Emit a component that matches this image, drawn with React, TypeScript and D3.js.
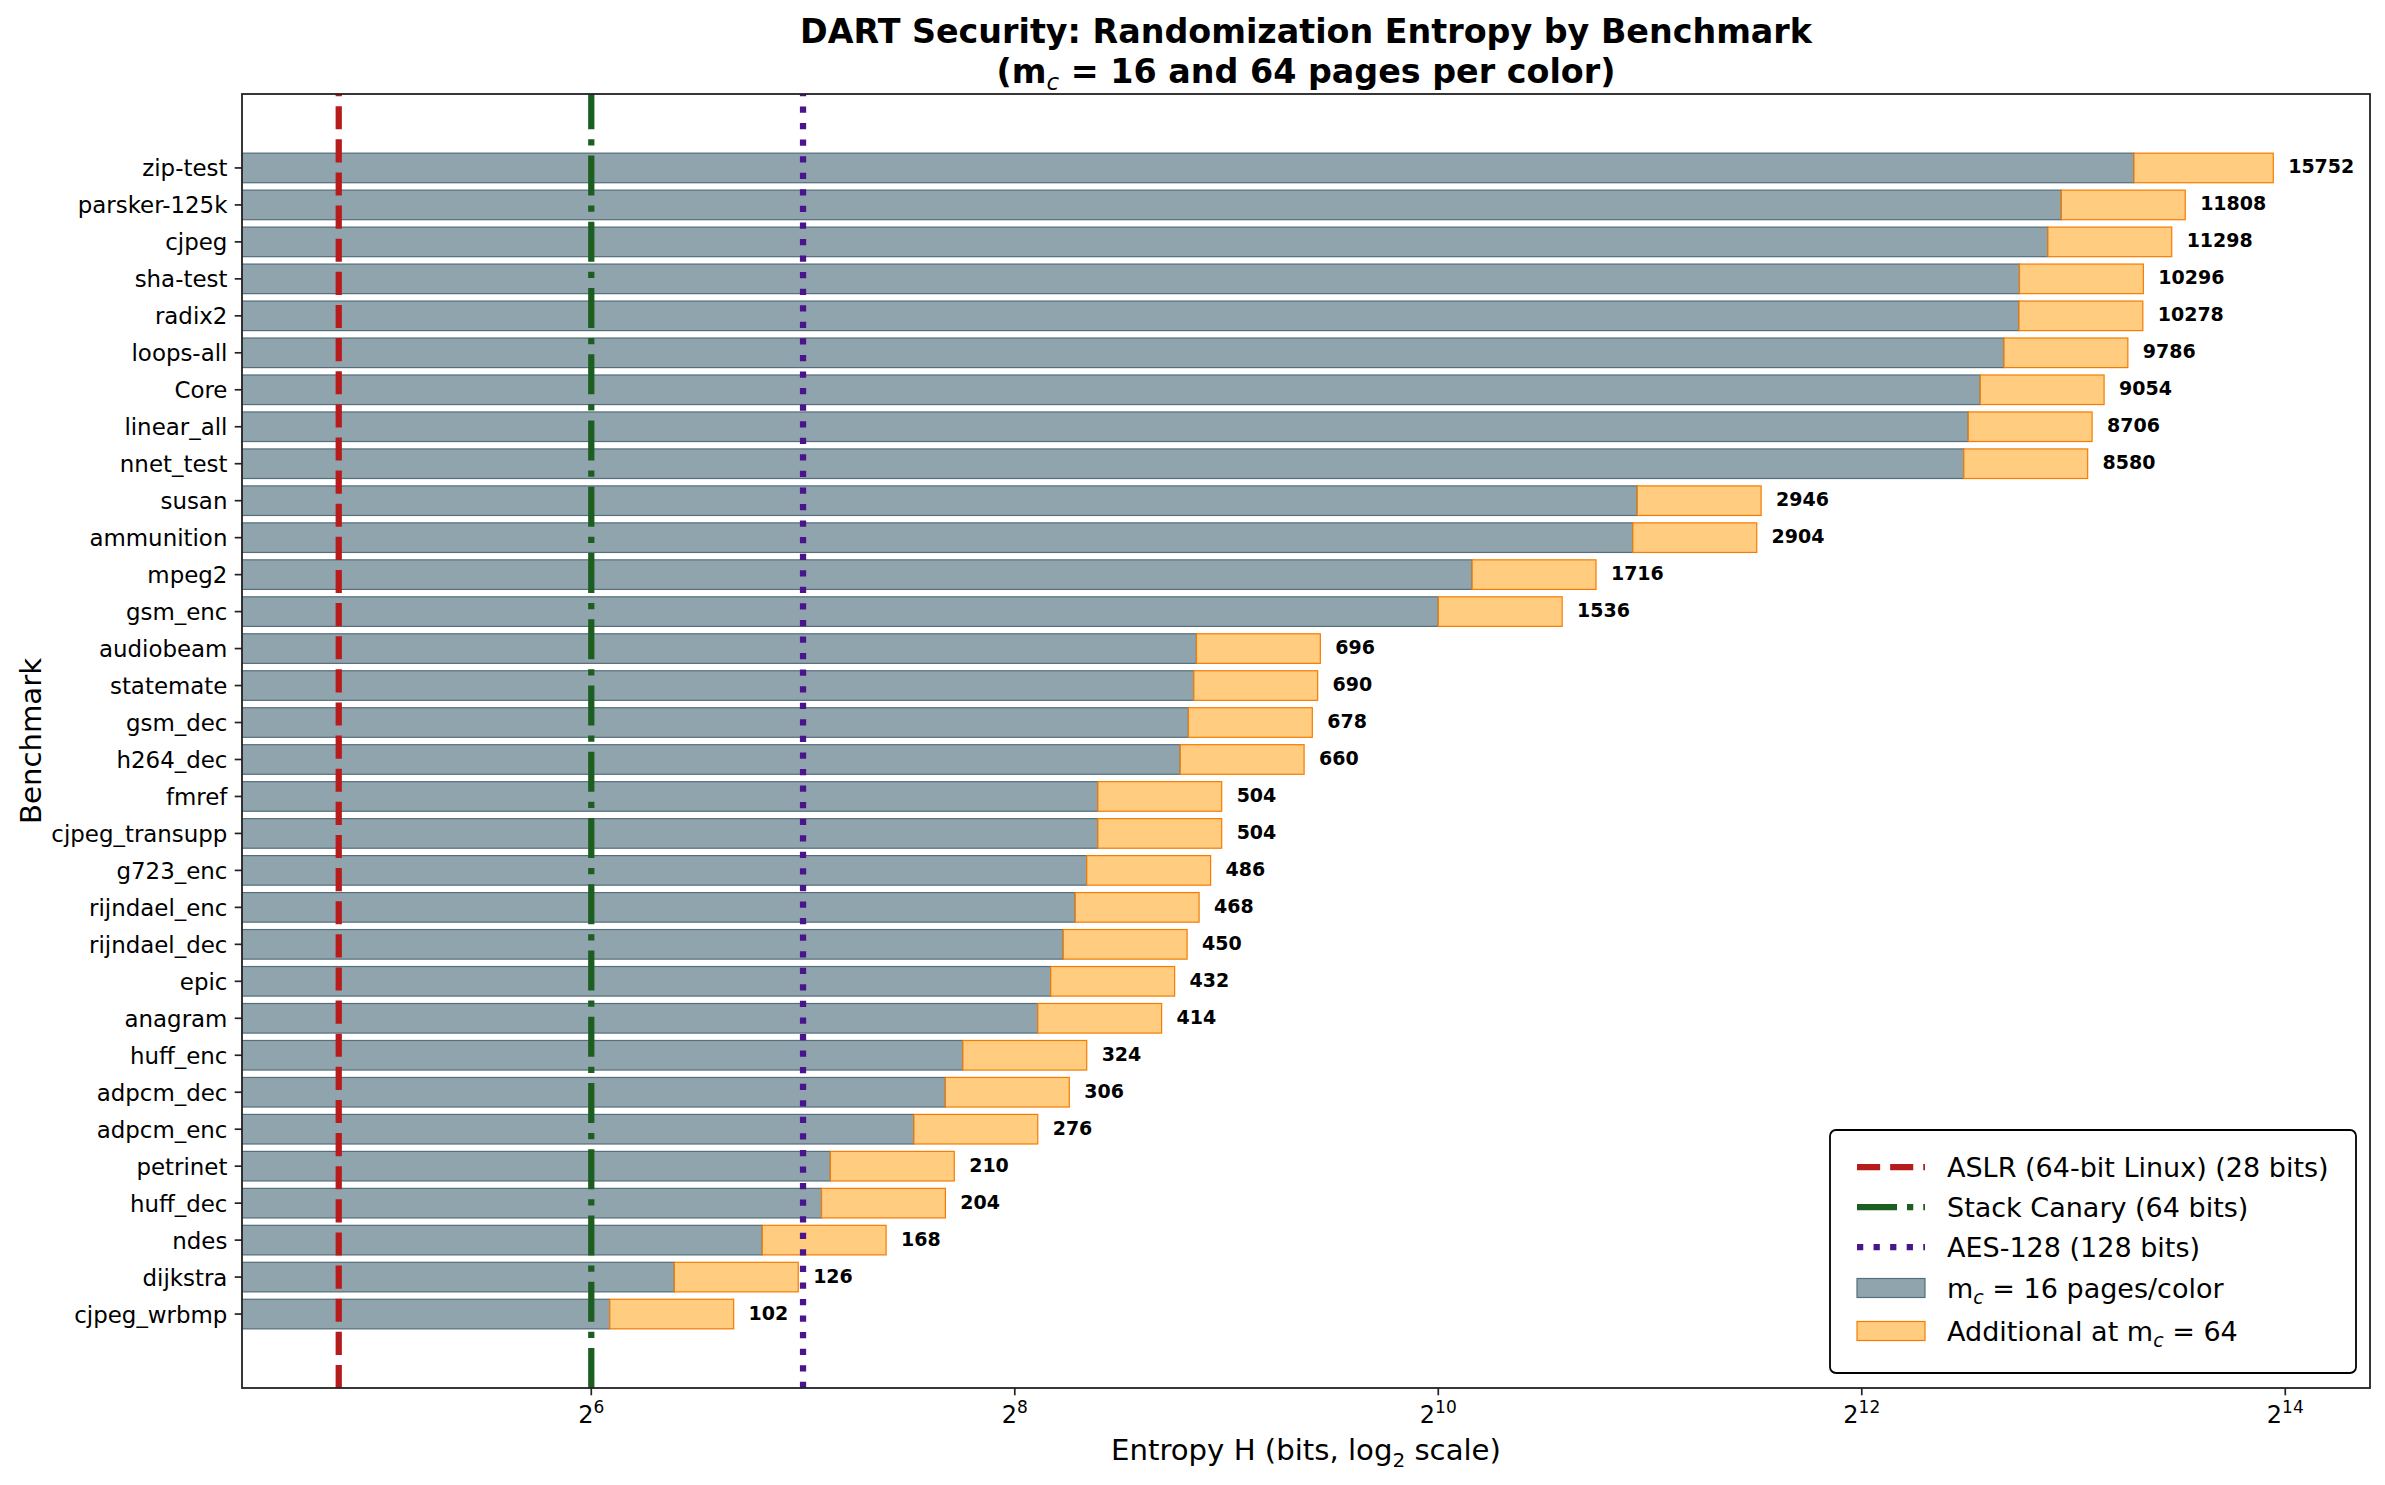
import * as d3 from "d3";

const benchmarks = [
  "zip-test", "parsker-125k", "cjpeg", "sha-test", "radix2", "loops-all", "Core",
  "linear_all", "nnet_test", "susan", "ammunition", "mpeg2", "gsm_enc", "audiobeam",
  "statemate", "gsm_dec", "h264_dec", "fmref", "cjpeg_transupp", "g723_enc",
  "rijndael_enc", "rijndael_dec", "epic", "anagram", "huff_enc", "adpcm_dec",
  "adpcm_enc", "petrinet", "huff_dec", "ndes", "dijkstra", "cjpeg_wrbmp",
];

// entropy at m_c = 16 pages per color
const entropyM16 = [
  9984, 7872, 7532, 6864, 6852, 6524, 6036, 5804, 5720, 1964, 1936, 1144, 1024, 464,
  460, 452, 440, 336, 336, 324, 312, 300, 288, 276, 216, 204, 184, 140, 136, 112, 84, 68,
];

// entropy at m_c = 64 pages per color (the printed totals)
const entropyM64 = [
  15752, 11808, 11298, 10296, 10278, 9786, 9054, 8706, 8580, 2946, 2904, 1716, 1536, 696,
  690, 678, 660, 504, 504, 486, 468, 450, 432, 414, 324, 306, 276, 210, 204, 168, 126, 102,
];

const refLineValues = [28, 64, 128];
const refLineLabels = ["ASLR (64-bit Linux) (28 bits)", "Stack Canary (64 bits)", "AES-128 (128 bits)"];

const xTickExponents = [6, 8, 10, 12, 14];

const W = 2385;
const H = 1485;
const left = 242;
const right = 2370;
const top = 94;
const bottom = 1388;
const PT = 150 / 72;

const refColors = ["#b71c1c", "#1b5e20", "#4a148c"];
const refDashes = [
  `${3.7 * 3 * PT} ${1.6 * 3 * PT}`,
  `${6.4 * 3 * PT} ${1.6 * 3 * PT} ${1 * 3 * PT} ${1.6 * 3 * PT}`,
  `${1 * 3 * PT} ${1.65 * 3 * PT}`,
];

const greyFill = "#90a4ae";
const greyEdge = "#546e7a";
const orangeFill = "#ffcc80";
const orangeEdge = "#f57c00";
const font = "DejaVu Sans, sans-serif";

export default function App() {
  const x = d3.scaleLog().base(2).domain([20.4, 21620]).range([left, right]);
  const y = d3.scaleLinear().domain([-2, 33]).range([top, bottom]);
  const barH = y(0.4) - y(-0.4);
  const tickLen = 3.5 * PT;
  const tickPad = 3.5 * PT;
  const tickFs = 11 * PT;
  const midX = (left + right) / 2;

  const legendX = 1830;
  const legendTextX = 1947;
  const handleX0 = 1857;
  const handleX1 = 1925;
  const legendRows = [1167, 1207, 1247, 1288, 1331];
  const legendFs = 27;

  return (
    <svg
      width={W}
      height={H}
      style={{ position: "absolute", left: 0, top: 0, background: "#fff" }}
      fontFamily={font}
    >
      <defs>
        <clipPath id="plot-clip">
          <rect x={left} y={top} width={right - left} height={bottom - top} />
        </clipPath>
      </defs>
      <rect x={0} y={0} width={W} height={H} fill="#fff" />

      {/* bars: m_c = 16, then the extra entropy gained at m_c = 64 */}
      <g clipPath="url(#plot-clip)">
        {benchmarks.map((b, i) => (
          <g key={b}>
            <rect
              x={left - 10}
              y={y(i) - barH / 2}
              width={x(entropyM16[i]) - left + 10}
              height={barH}
              fill={greyFill}
              stroke={greyEdge}
              strokeWidth={1.2}
            />
            <rect
              x={x(entropyM16[i])}
              y={y(i) - barH / 2}
              width={x(entropyM64[i]) - x(entropyM16[i])}
              height={barH}
              fill={orangeFill}
              stroke={orangeEdge}
              strokeWidth={1.2}
            />
          </g>
        ))}

        {/* reference lines, drawn bottom-up so the dash phase starts at the axis */}
        {refLineValues.map((v, k) => (
          <line
            key={v}
            x1={x(v)}
            x2={x(v)}
            y1={bottom}
            y2={top}
            stroke={refColors[k]}
            strokeWidth={3 * PT}
            strokeDasharray={refDashes[k]}
          />
        ))}
      </g>

      {/* value labels */}
      {benchmarks.map((b, i) => (
        <text
          key={b}
          x={x(entropyM64[i] * 1.05)}
          y={y(i) + 5.5}
          fontSize={19}
          fontWeight="bold"
          fill="#000"
        >
          {entropyM64[i]}
        </text>
      ))}

      {/* y axis */}
      {benchmarks.map((b, i) => (
        <g key={b}>
          <line x1={left - tickLen} x2={left} y1={y(i)} y2={y(i)} stroke="#222" strokeWidth={1.7} />
          <text x={left - tickLen - tickPad} y={y(i) + 8.5} textAnchor="end" fontSize={tickFs} fill="#000">
            {b}
          </text>
        </g>
      ))}

      {/* x axis */}
      {xTickExponents.map((e) => (
        <g key={e}>
          <line
            x1={x(2 ** e)}
            x2={x(2 ** e)}
            y1={bottom}
            y2={bottom + tickLen}
            stroke="#222"
            strokeWidth={1.7}
          />
          <text x={x(2 ** e)} y={bottom + 35} textAnchor="middle" fontSize={24} fill="#000">
            2
            <tspan dy={-10} fontSize={17}>
              {e}
            </tspan>
          </text>
        </g>
      ))}

      {/* spines */}
      <rect x={left} y={top} width={right - left} height={bottom - top} fill="none" stroke="#222" strokeWidth={1.8} />

      {/* axis labels */}
      <text x={midX} y={1460} textAnchor="middle" fontSize={14 * PT} fill="#000">
        Entropy H (bits, log
        <tspan dy={7} fontSize={20}>
          2
        </tspan>
        <tspan dy={-7}> scale)</tspan>
      </text>
      <text
        transform={`translate(41,${(top + bottom) / 2}) rotate(-90)`}
        textAnchor="middle"
        fontSize={14 * PT}
        fill="#000"
      >
        Benchmark
      </text>

      {/* title */}
      <text x={midX} y={43} textAnchor="middle" fontSize={16 * PT} fontWeight="bold" fill="#000">
        DART Security: Randomization Entropy by Benchmark
      </text>
      <text x={midX} y={83} textAnchor="middle" fontSize={16 * PT} fontWeight="bold" fill="#000">
        (m
        <tspan dy={7} fontSize={23} fontStyle="italic" fontWeight="normal">
          c
        </tspan>
        <tspan dy={-7}> = 16 and 64 pages per color)</tspan>
      </text>

      {/* legend */}
      <rect x={legendX} y={1130} width={526} height={243} rx={6} fill="#fff" stroke="#000" strokeWidth={1.8} />
      {refLineLabels.map((lab, k) => (
        <g key={lab}>
          <line
            x1={handleX0}
            x2={handleX1}
            y1={legendRows[k]}
            y2={legendRows[k]}
            stroke={refColors[k]}
            strokeWidth={3 * PT}
            strokeDasharray={refDashes[k]}
          />
          <text x={legendTextX} y={legendRows[k] + 10} fontSize={legendFs} fill="#000">
            {lab}
          </text>
        </g>
      ))}
      <rect
        x={handleX0}
        y={legendRows[3] - 9.5}
        width={handleX1 - handleX0}
        height={19}
        fill={greyFill}
        stroke={greyEdge}
        strokeWidth={1.2}
      />
      <text x={legendTextX} y={legendRows[3] + 10} fontSize={legendFs} fill="#000">
        m
        <tspan dy={6} fontSize={19} fontStyle="italic">
          c
        </tspan>
        <tspan dy={-6}> = 16 pages/color</tspan>
      </text>
      <rect
        x={handleX0}
        y={legendRows[4] - 9.5}
        width={handleX1 - handleX0}
        height={19}
        fill={orangeFill}
        stroke={orangeEdge}
        strokeWidth={1.2}
      />
      <text x={legendTextX} y={legendRows[4] + 10} fontSize={legendFs} fill="#000">
        Additional at m
        <tspan dy={6} fontSize={19} fontStyle="italic">
          c
        </tspan>
        <tspan dy={-6}> = 64</tspan>
      </text>
    </svg>
  );
}
